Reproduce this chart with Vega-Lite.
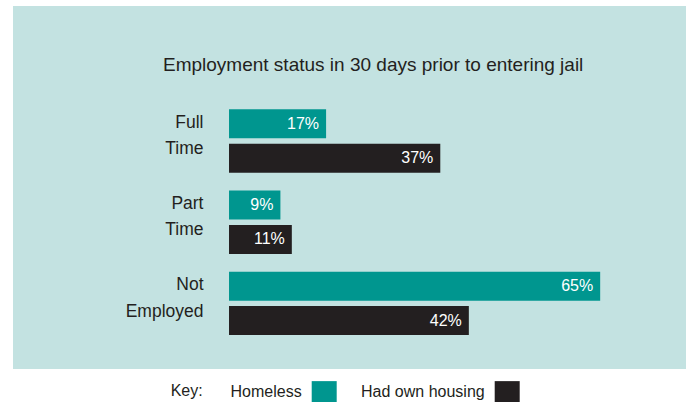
{
  "$schema": "https://vega.github.io/schema/vega-lite/v6.json",
  "width": 673,
  "height": 363,
  "autosize": {"type": "none"},
  "padding": {"left": 13, "top": 6, "right": 0, "bottom": 33},
  "background": "white",
  "config": {"view": {"stroke": null, "fill": "#c3e2e1"}, "font": "Liberation Sans"},
  "title": {"text": "Employment status in 30 days prior to entering jail", "anchor": "start", "frame": "group", "dx": 150, "dy": 84, "offset": 0, "baseline": "alphabetic", "fontSize": 19, "fontWeight": "normal", "color": "#231f20", "font": "Liberation Sans"},
  "data": {"values": [
    {"status": "Full Time", "group": "Homeless", "pct": 0.17},
    {"status": "Full Time", "group": "Had own housing", "pct": 0.37},
    {"status": "Part Time", "group": "Homeless", "pct": 0.09},
    {"status": "Part Time", "group": "Had own housing", "pct": 0.11},
    {"status": "Not Employed", "group": "Homeless", "pct": 0.65},
    {"status": "Not Employed", "group": "Had own housing", "pct": 0.42}
  ]},
  "encoding": {
    "y": {"field": "status", "type": "nominal", "sort": ["Full Time", "Part Time", "Not Employed"],
      "scale": {"paddingInner": 0.219, "paddingOuter": 0.845, "align": 0.753},
      "axis": {"title": null, "domain": false, "ticks": false, "labelPadding": 0, "offset": -190, "labelOffset": -18.5, "labelExpr": "split(datum.label, ' ')", "labelFontSize": 17.5, "labelColor": "#231f20", "labelLineHeight": 26.7, "labelLimit": 0}},
    "yOffset": {"field": "group", "type": "nominal", "sort": ["Homeless", "Had own housing"], "scale": {"paddingInner": 0.157, "paddingOuter": 0}},
    "x": {"field": "pct", "type": "quantitative", "scale": {"domain": [-0.3783, 0.8003], "nice": false, "zero": false}, "axis": null}
  },
  "layer": [
    {"mark": {"type": "bar"},
     "encoding": {
       "x2": {"datum": 0},
       "color": {"field": "group", "type": "nominal",
         "scale": {"domain": ["Homeless", "Had own housing"], "range": ["#00968f", "#231f20"]},
         "legend": {"orient": "none", "legendX": 157.7, "legendY": 373, "direction": "horizontal", "title": "Key:", "titleOrient": "left", "titleFontSize": 16, "titleFontWeight": "normal", "titleColor": "#231f20", "titlePadding": 108, "labelFontSize": 16, "labelColor": "#231f20", "labelAlign": "right", "labelOffset": -35, "columnPadding": 24, "symbolType": "M-1,-0.86H1V0.86H-1Z", "symbolSize": 625, "symbolStrokeWidth": 0, "symbolOpacity": 1, "padding": 0, "labelLimit": 0}}
     }},
    {"mark": {"type": "text", "align": "right", "dx": -7, "color": "white", "fontSize": 16, "baseline": "middle"},
     "encoding": {"text": {"field": "pct", "type": "quantitative", "format": ".0%"}}}
  ]
}
